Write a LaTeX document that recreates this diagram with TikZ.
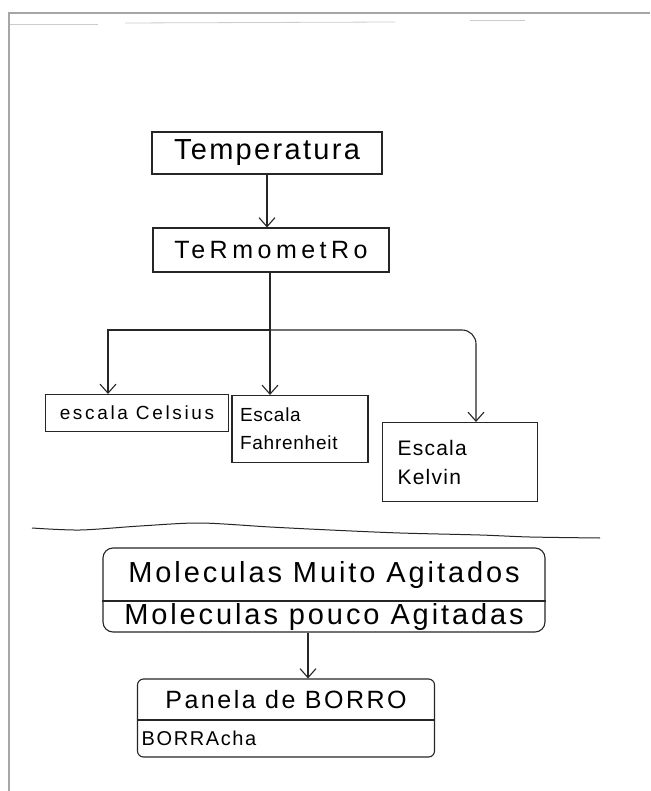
\documentclass[tikz,border=0pt]{standalone}
\usepackage{fontspec}
\setmainfont{Liberation Sans}
\usetikzlibrary{arrows.meta}
\tikzset{
  ink/.style={draw=black!85, line width=1.1pt},
  box/.style={ink, inner sep=0pt, align=center},
  arr/.style={ink, -{Straight Barb[length=9pt,width=16pt,line width=1.1pt]}},
  frame/.style={draw=black!35, line width=1.6pt},
  faint/.style={draw=black!20, line width=0.8pt},
}
\begin{document}
\begin{tikzpicture}[x=1pt,y=-1pt]
\useasboundingbox[fill=white] (0,0) rectangle (650,791);
% page frame
\draw[frame] (9,791) -- (9,13) -- (650,13);
\draw[faint] (10,24) -- (98,24);
\draw[faint] (125,23) -- (395,22);
\draw[faint] (470,20) -- (525,20);

% nodes
\node[box, minimum width=230pt, minimum height=42pt, font=\fontsize{29}{32}\selectfont\addfontfeature{LetterSpace=8}] (temp) at (267,153) {Temperatura};
\node[box, minimum width=236pt, minimum height=44pt, font=\fontsize{25}{28}\selectfont\addfontfeature{LetterSpace=18}] (term) at (271,250) {TeRmometRo};
\node[box, minimum width=183pt, minimum height=37pt, font=\fontsize{19}{22}\selectfont\addfontfeature{LetterSpace=14}] (cel) at (137,413) {escala Celsius};
\node[box, minimum width=136pt, minimum height=67pt, text width=120pt, font=\fontsize{19}{28}\selectfont\addfontfeature{LetterSpace=4}, align=left] (fah) at (300,429) {Escala\\Fahrenheit};
\node[box, minimum width=155pt, minimum height=79pt, text width=125pt, font=\fontsize{21}{29}\selectfont\addfontfeature{LetterSpace=6}, align=left] (kel) at (460,462) {Escala\\Kelvin};
\node[box, rounded corners=10pt, minimum width=442pt, minimum height=84pt] (mol) at (324,590) {};
\node[font=\fontsize{29}{32}\selectfont\addfontfeature{LetterSpace=10}] (mol1) at (324,575) {Moleculas Muito Agitados};
\node[font=\fontsize{29}{32}\selectfont\addfontfeature{LetterSpace=10}] (mol2) at (324,617) {Moleculas pouco Agitadas};
\node[box, rounded corners=6pt, minimum width=297pt, minimum height=78pt] (pan) at (286,718) {};
\node[font=\fontsize{25}{28}\selectfont\addfontfeature{LetterSpace=10}] (pan1) at (286,700) {Panela de BORRO};
\node[font=\fontsize{20}{24}\selectfont\addfontfeature{LetterSpace=8}] (pan2) at (199,738) {BORRAcha};

% dividers inside boxes
\draw[ink] (mol.west |- 0,601) -- (mol.east |- 0,601);
\draw[ink] (pan.west |- 0,720) -- (pan.east |- 0,720);

% connectors
\draw[arr] (temp.south) -- (temp.south |- term.north);
\coordinate (j) at (270,330);
\draw[arr] ([xshift=-1pt]term.south) -- ([xshift=-1pt]term.south |- fah.north);
\draw[arr] (j) -| ([xshift=-29pt]cel.north);
\draw[arr, rounded corners=14pt] (j) -| ([xshift=16pt]kel.north);
\draw[arr] ([xshift=-16pt]mol.south) -- ([xshift=-16pt]mol.south |- pan.north);

% section separator
\draw[ink, line width=1pt] plot[smooth] coordinates {(32,528) (80,530) (140,526) (200,523) (270,527) (330,530) (400,533) (480,535) (530,537) (600,538)};
\end{tikzpicture}
\end{document}
